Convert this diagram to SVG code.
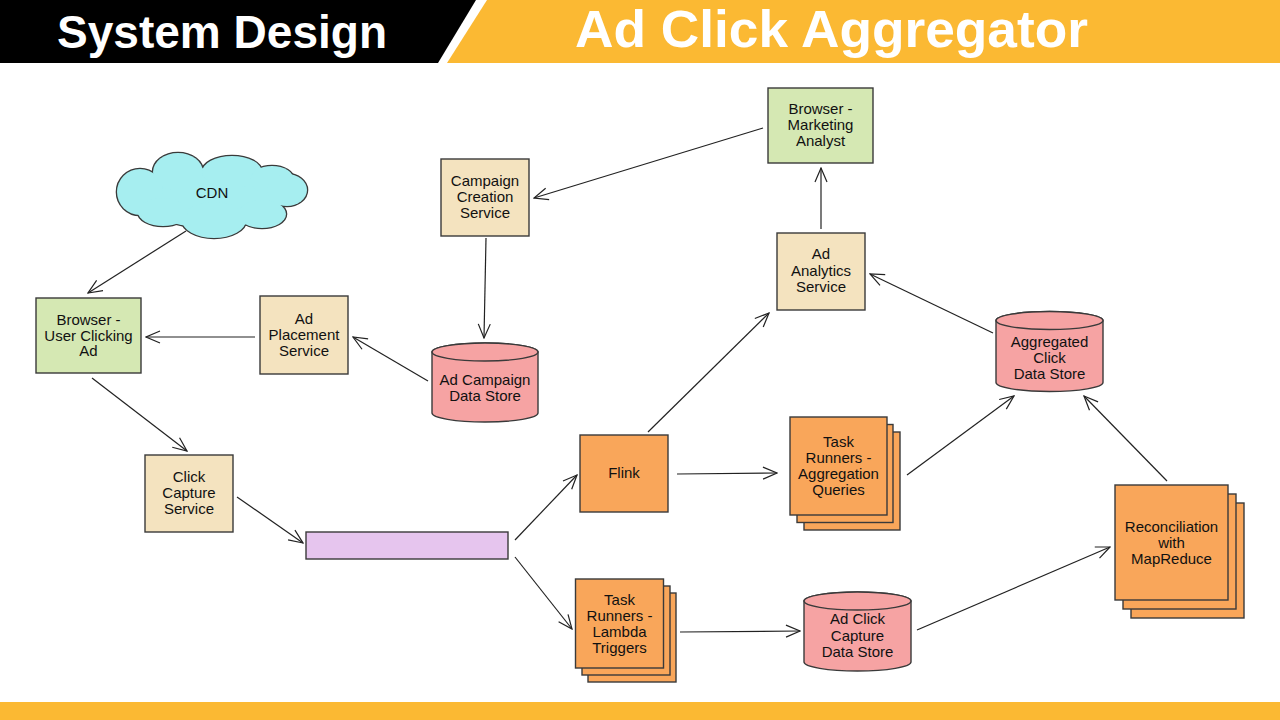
<svg xmlns="http://www.w3.org/2000/svg" xmlns:xlink="http://www.w3.org/1999/xlink" width="1280" height="720" viewBox="0 0 1280 720">
<defs>
<style>
.t{font-family:"Liberation Sans",Arial,Helvetica,sans-serif;font-size:15px;fill:#111;text-anchor:middle}
.h{font-family:"Liberation Sans",Arial,Helvetica,sans-serif;font-weight:bold;fill:#fff}
.box{stroke:#3a3a3a;stroke-width:1.4}
.tan{fill:#f4e3bf}
.green{fill:#d5e8b3}
.orange{fill:#f9a65a}
.pink{fill:#f6a3a3}
.purple{fill:#e6c5ee}
.conn line{stroke:#222;stroke-width:1.2;fill:none;marker-end:url(#arr)}
</style>
<marker id="arr" markerUnits="userSpaceOnUse" markerWidth="16" markerHeight="14" viewBox="0 0 16 14" refX="15" refY="7" orient="auto">
<path d="M1,1 L15,7 L1,13" fill="none" stroke="#222" stroke-width="1.2"/>
</marker>
<g id="cloudShapes">
<ellipse cx="212" cy="198" rx="70" ry="30"/>
<circle cx="140" cy="192" r="23"/>
<ellipse cx="178" cy="172" rx="25" ry="19"/>
<ellipse cx="232" cy="172" rx="30" ry="16"/>
<ellipse cx="272" cy="180" rx="22" ry="14"/>
<ellipse cx="287" cy="190" rx="20" ry="16"/>
<ellipse cx="262" cy="214" rx="24" ry="14"/>
<ellipse cx="214" cy="220" rx="32" ry="18"/>
<ellipse cx="163" cy="212" rx="25" ry="14"/>
</g>
</defs>
<rect width="1280" height="720" fill="#ffffff"/>
<g id="header">
<polygon points="0,0 476,0 438,63 0,63" fill="#000"/>
<polygon points="487,0 1280,0 1280,63 447,63" fill="#fbb933"/>
<text class="h" x="57" y="48" font-size="46" textLength="330" lengthAdjust="spacingAndGlyphs">System Design</text>
<text class="h" x="575" y="47" font-size="52" textLength="513" lengthAdjust="spacingAndGlyphs">Ad Click Aggregator</text>
</g>
<rect id="footer" x="0" y="702" width="1280" height="18" fill="#fbb933"/>

<g id="connectors" class="conn">
<line x1="186" y1="231" x2="88" y2="293"/>
<line x1="255" y1="337" x2="146" y2="337"/>
<line x1="428" y1="381" x2="353" y2="337"/>
<line x1="486" y1="238" x2="484" y2="338"/>
<line x1="763" y1="128" x2="534" y2="198"/>
<line x1="821" y1="229" x2="821" y2="168"/>
<line x1="993" y1="333" x2="870" y2="274"/>
<line x1="648" y1="432" x2="769" y2="313"/>
<line x1="92" y1="378" x2="187" y2="451"/>
<line x1="237" y1="497" x2="303" y2="543"/>
<line x1="515" y1="540" x2="577" y2="475"/>
<line x1="515" y1="557" x2="572" y2="629"/>
<line x1="677" y1="474" x2="777" y2="473"/>
<line x1="907" y1="475" x2="1014" y2="396"/>
<line x1="680" y1="632" x2="800" y2="631"/>
<line x1="917" y1="630" x2="1110" y2="547"/>
<line x1="1167" y1="481" x2="1084" y2="396"/>
</g>

<g id="cdn">
<use xlink:href="#cloudShapes" href="#cloudShapes" fill="#a6eef0" stroke="#3a3a3a" stroke-width="2.6"/>
<use xlink:href="#cloudShapes" href="#cloudShapes" fill="#a6eef0" stroke="none"/>
<text class="t" x="212" y="198">CDN</text>
</g>

<g id="browser-user">
<rect class="box green" x="36" y="298" width="105" height="75"/>
<text class="t" x="88.5" y="325">Browser -</text>
<text class="t" x="88.5" y="341">User Clicking</text>
<text class="t" x="88.5" y="356">Ad</text>
</g>

<g id="ad-placement">
<rect class="box tan" x="260" y="296" width="88" height="78"/>
<text class="t" x="304" y="324">Ad</text>
<text class="t" x="304" y="340">Placement</text>
<text class="t" x="304" y="356">Service</text>
</g>

<g id="campaign-creation">
<rect class="box tan" x="441" y="159" width="88" height="77"/>
<text class="t" x="485" y="186">Campaign</text>
<text class="t" x="485" y="202">Creation</text>
<text class="t" x="485" y="218">Service</text>
</g>

<g id="browser-marketing">
<rect class="box green" x="768" y="88" width="105" height="75"/>
<text class="t" x="820.5" y="114">Browser -</text>
<text class="t" x="820.5" y="130">Marketing</text>
<text class="t" x="820.5" y="146">Analyst</text>
</g>

<g id="ad-analytics">
<rect class="box tan" x="777" y="233" width="88" height="77"/>
<text class="t" x="821" y="259">Ad</text>
<text class="t" x="821" y="276">Analytics</text>
<text class="t" x="821" y="292">Service</text>
</g>

<g id="ad-campaign-store">
<path class="box pink" d="M432,352 L432,413 A53,9 0 0 0 538,413 L538,352 A53,9 0 0 0 432,352 Z"/>
<ellipse class="box pink" cx="485" cy="352" rx="53" ry="9"/>
<text class="t" x="485" y="385">Ad Campaign</text>
<text class="t" x="485" y="401">Data Store</text>
</g>

<g id="aggregated-store">
<path class="box pink" d="M996,320.5 L996,382.5 A53.5,9 0 0 0 1103,382.5 L1103,320.5 A53.5,9 0 0 0 996,320.5 Z"/>
<ellipse class="box pink" cx="1049.5" cy="320.5" rx="53.5" ry="9"/>
<text class="t" x="1049.5" y="347">Aggregated</text>
<text class="t" x="1049.5" y="363">Click</text>
<text class="t" x="1049.5" y="379">Data Store</text>
</g>

<g id="click-capture">
<rect class="box tan" x="145" y="455" width="88" height="77"/>
<text class="t" x="189" y="482">Click</text>
<text class="t" x="189" y="498">Capture</text>
<text class="t" x="189" y="514">Service</text>
</g>

<g id="queue">
<rect class="box purple" x="306" y="532" width="202" height="27"/>
</g>

<g id="flink">
<rect class="box orange" x="580" y="435" width="88" height="77"/>
<text class="t" x="624" y="478">Flink</text>
</g>

<g id="task-aggregation">
<rect class="box orange" x="804" y="432" width="96" height="98"/>
<rect class="box orange" x="797" y="424.5" width="96" height="98"/>
<rect class="box orange" x="790" y="417" width="97" height="98"/>
<text class="t" x="838.5" y="447">Task</text>
<text class="t" x="838.5" y="463">Runners -</text>
<text class="t" x="838.5" y="479">Aggregation</text>
<text class="t" x="838.5" y="495">Queries</text>
</g>

<g id="task-lambda">
<rect class="box orange" x="588" y="593" width="88" height="89"/>
<rect class="box orange" x="582" y="586" width="88" height="89"/>
<rect class="box orange" x="575.5" y="579" width="88" height="89"/>
<text class="t" x="619.5" y="605">Task</text>
<text class="t" x="619.5" y="621">Runners -</text>
<text class="t" x="619.5" y="637">Lambda</text>
<text class="t" x="619.5" y="653">Triggers</text>
</g>

<g id="ad-click-store">
<path class="box pink" d="M804,601 L804,662 A53.5,9 0 0 0 911,662 L911,601 A53.5,9 0 0 0 804,601 Z"/>
<ellipse class="box pink" cx="857.5" cy="601" rx="53.5" ry="9"/>
<text class="t" x="857.5" y="624">Ad Click</text>
<text class="t" x="857.5" y="641">Capture</text>
<text class="t" x="857.5" y="657">Data Store</text>
</g>

<g id="reconciliation">
<rect class="box orange" x="1131" y="503" width="113" height="115"/>
<rect class="box orange" x="1123" y="494" width="113" height="115"/>
<rect class="box orange" x="1115" y="485" width="113" height="115"/>
<text class="t" x="1171.5" y="532">Reconciliation</text>
<text class="t" x="1171.5" y="548">with</text>
<text class="t" x="1171.5" y="564">MapReduce</text>
</g>
</svg>
